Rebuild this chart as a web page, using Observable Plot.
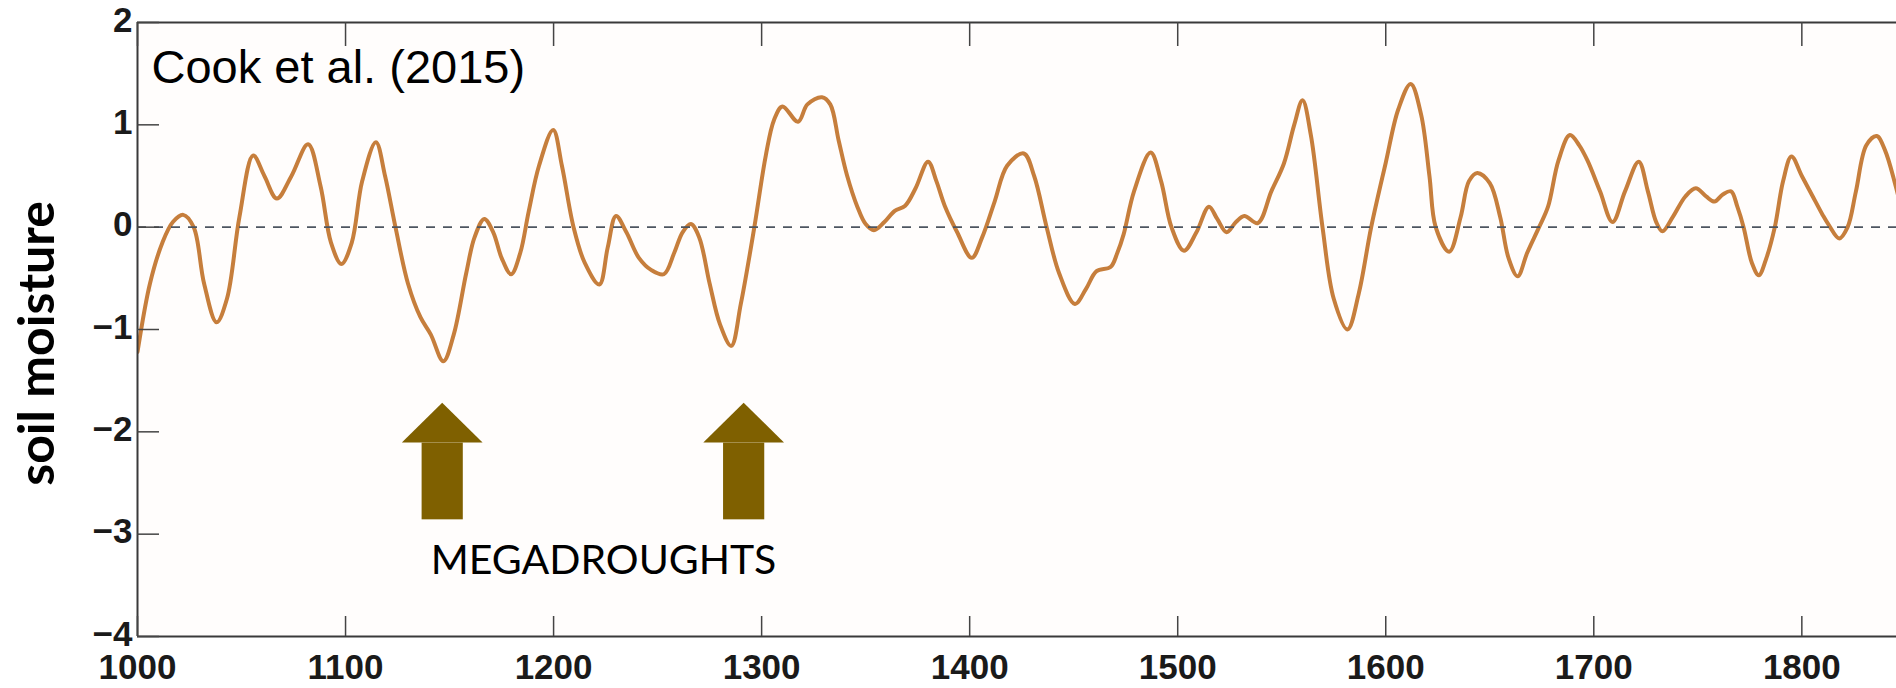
<!DOCTYPE html>
<html>
<head>
<meta charset="utf-8">
<script src="https://cdn.jsdelivr.net/npm/d3@7"></script>
<script src="https://cdn.jsdelivr.net/npm/@observablehq/plot@0.6"></script>
<style>
  html, body { margin: 0; padding: 0; background: #ffffff; }
  #chart svg { display: block; }
</style>
</head>
<body>
<div id="chart"></div>
<script>
// ---- data ----
const years = [1000,1006,1012,1017,1022,1027,1032,1038,1043,1049,1055.6,1061,1067,1074,1082,1088,1093,1098,1103,1108,1114.6,1119,1124,1130,1136,1141,1147,1152,1158,1162,1166.7,1171,1175,1179.6,1184,1188,1193,1199.8,1204,1209.6,1215,1222,1226,1230,1235,1241,1247,1253,1258,1262,1266,1270,1275,1280,1285.4,1290,1296.5,1302,1306,1310,1317.5,1322,1329,1333,1337,1341,1346,1350,1354,1359,1364,1369,1374,1380,1384,1388,1394,1401,1406,1412,1418,1426,1431,1437,1443,1450.6,1456,1461,1467.7,1471,1474,1479,1487,1492,1497,1503,1509,1515,1519,1523.5,1528,1532,1538.5,1545,1551,1556,1560,1564,1569.6,1575,1581.6,1587,1593,1600,1606,1612,1617,1621,1624,1630.5,1636,1640,1644,1650,1655,1659,1663.4,1668,1673.7,1678,1683,1688.5,1693,1697,1703,1709,1715,1721.6,1726,1730,1733,1738,1744,1749,1754,1758,1762,1766,1769,1772,1776,1779.3,1783,1787,1791,1795,1800,1805,1810,1813,1818,1822,1826,1831,1836,1840,1845,1850];
const moisture = [-1.22,-0.55,-0.15,0.05,0.12,0.0,-0.55,-0.93,-0.7,0.1,0.70,0.5,0.28,0.5,0.81,0.4,-0.15,-0.36,-0.15,0.45,0.83,0.5,0.0,-0.55,-0.88,-1.05,-1.31,-1.05,-0.45,-0.1,0.08,-0.05,-0.3,-0.46,-0.25,0.15,0.6,0.95,0.6,0.0,-0.35,-0.56,-0.2,0.11,-0.05,-0.3,-0.42,-0.46,-0.25,-0.05,0.03,-0.1,-0.55,-0.95,-1.16,-0.75,0.0,0.7,1.05,1.18,1.03,1.2,1.27,1.2,0.85,0.51,0.2,0.03,-0.03,0.05,0.16,0.21,0.38,0.64,0.45,0.21,-0.05,-0.30,-0.1,0.25,0.6,0.72,0.5,0.0,-0.45,-0.75,-0.6,-0.43,-0.39,-0.25,-0.07,0.35,0.73,0.45,0.0,-0.23,-0.05,0.20,0.08,-0.05,0.05,0.11,0.04,0.35,0.62,1.0,1.24,0.9,0.0,-0.7,-1.0,-0.65,0.0,0.63,1.15,1.40,1.1,0.5,0.0,-0.24,0.1,0.45,0.53,0.43,0.1,-0.3,-0.48,-0.25,0.0,0.2,0.65,0.90,0.8,0.65,0.35,0.05,0.35,0.64,0.35,0.05,-0.04,0.1,0.3,0.38,0.3,0.25,0.32,0.35,0.2,0.0,-0.35,-0.47,-0.3,0.0,0.45,0.69,0.5,0.31,0.12,0.02,-0.11,0.0,0.35,0.8,0.89,0.75,0.41,0.0];

const xTicks = [1000,1100,1200,1300,1400,1500,1600,1700,1800];
const xTickLabels = ["1000","1100","1200","1300","1400","1500","1600","1700","1800"];
const yTicks = [2,1,0,-1,-2,-3,-4];
const yTickLabels = ["2","1","0","\u22121","\u22122","\u22123","\u22124"];

const yLabel = "soil moisture";
const sourceLabel = "Cook et al. (2015)";

// megadrought annotation
const droughtYears = [1146.7, 1291.6];
const droughtTipValue = -1.72;
const droughtHeadBaseValue = -2.11;
const droughtTailValue = -2.86;
const droughtLabel = "MEGADROUGHTS";
const droughtLabelYear = 1224;
const droughtLabelValue = -3.39;

// ---- build tables ----
const series = years.map((yr, i) => ({year: yr, value: moisture[i]}));

const headHalf = 19.4;   // years
const shaftHalf = 9.9;   // years
const arrowHeads = droughtYears.flatMap((yr, k) => [
  {id: k, x: yr - headHalf, y1: droughtHeadBaseValue, y2: droughtHeadBaseValue},
  {id: k, x: yr,            y1: droughtHeadBaseValue, y2: droughtTipValue},
  {id: k, x: yr + headHalf, y1: droughtHeadBaseValue, y2: droughtHeadBaseValue}
]);
const arrowShafts = droughtYears.map(yr => ({
  x1: yr - shaftHalf, x2: yr + shaftHalf, y1: droughtTailValue, y2: droughtHeadBaseValue
}));

const W = 1896, H = 688, ML = 137, MR = 0, MT = 22, MB = 52;
const plotW = W - ML - MR, plotH = H - MT - MB;

const chart = Plot.plot({
  width: W, height: H,
  marginLeft: ML, marginRight: MR, marginTop: MT, marginBottom: MB,
  x: {domain: [1000, 1845.5]},
  y: {domain: [-4, 2]},
  style: {background: "#ffffff", fontFamily: "'Liberation Sans', Arial, sans-serif", color: "#1a1a1a"},
  marks: [
    Plot.frame({fill: "#fffdfc", stroke: null}),
    // arrows
    Plot.rect(arrowShafts, {x1: "x1", x2: "x2", y1: "y1", y2: "y2", fill: "#7f6000"}),
    Plot.areaY(arrowHeads, {x: "x", y1: "y1", y2: "y2", z: "id", fill: "#7f6000", curve: "linear"}),
    // series
    Plot.line(series, {x: "year", y: "value", stroke: "#c67e3c", strokeWidth: 4, curve: "catmull-rom", clip: true}),
    // zero dashed line
    Plot.ruleY([0], {stroke: "#4d5560", strokeWidth: 1.6, strokeDasharray: "9,8"}),
    // frame (top, bottom, left)
    Plot.ruleY([2, -4], {stroke: "#3a3a3a", strokeWidth: 2}),
    Plot.ruleX([1000], {stroke: "#3a3a3a", strokeWidth: 2}),
    // inward ticks
    Plot.tickX(xTicks, {x: d => d, stroke: "#444", strokeWidth: 1.5, insetTop: plotH - 20}),
    Plot.tickX(xTicks, {x: d => d, stroke: "#444", strokeWidth: 1.5, insetBottom: plotH - 24}),
    Plot.tickY(yTicks, {y: d => d, stroke: "#444", strokeWidth: 1.5, insetRight: plotW - 22}),
    // axes labels
    Plot.axisX(xTicks, {anchor: "bottom", tickSize: 0, tickPadding: 18, fontSize: 35, fontWeight: "bold",
      tickFormat: d => xTickLabels[xTicks.indexOf(d)]}),
    Plot.axisY(yTicks, {anchor: "left", tickSize: 0, tickPadding: 5, dy: -2, fontSize: 35, fontWeight: "bold",
      tickFormat: d => yTickLabels[yTicks.indexOf(d)]}),
    // y title
    Plot.text([yLabel], {frameAnchor: "left", dx: -100, dy: 14, rotate: -90, textAnchor: "middle", fontSize: 50,
      fontWeight: "bold", fontFamily: "Lato, 'Open Sans', sans-serif", fill: "#000", text: d => d}),
    // source label
    Plot.text([sourceLabel], {frameAnchor: "top-left", dx: 14, dy: 27, lineAnchor: "top", textAnchor: "start",
      fontSize: 47, fill: "#000", text: d => d}),
    // megadroughts label
    Plot.text([droughtLabel], {x: () => droughtLabelYear, y: () => droughtLabelValue, lineAnchor: "bottom",
      textAnchor: "middle", fontSize: 41, fontFamily: "Lato, 'Open Sans', sans-serif", fill: "#000", text: d => d})
  ]
});
document.getElementById("chart").appendChild(chart);
</script>
</body>
</html>
